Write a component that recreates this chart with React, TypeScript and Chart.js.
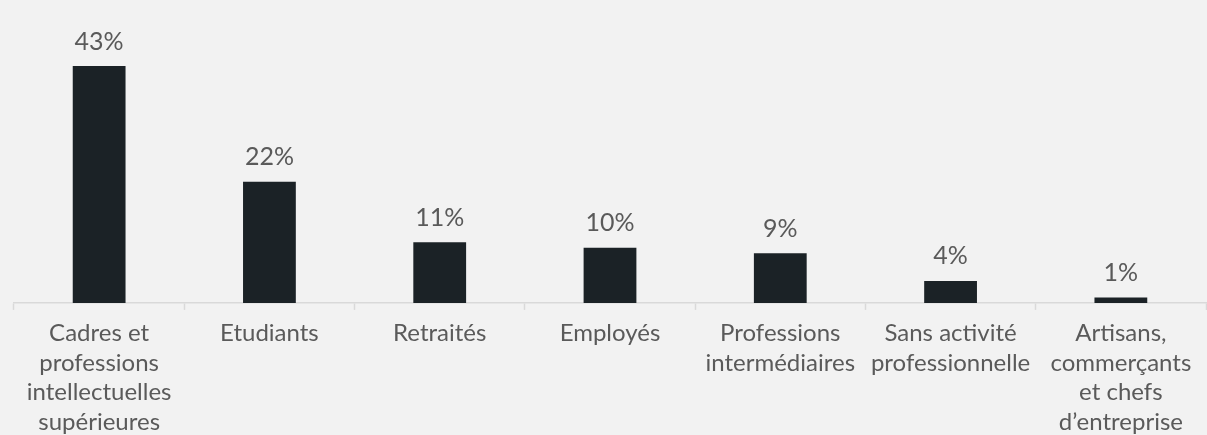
import { useEffect, useRef } from 'react'
import { Chart, registerables } from 'chart.js'
import type { Plugin } from 'chart.js'

Chart.register(...registerables)

const categories: string[][] = [
  ['Cadres et', 'professions', 'intellectuelles', 'supérieures'],
  ['Etudiants'],
  ['Retraités'],
  ['Employés'],
  ['Professions', 'intermédiaires'],
  ['Sans activité', 'professionnelle'],
  ['Artisans,', 'commerçants', 'et chefs', 'd’entreprise'],
]
const shares = [43, 22, 11, 10, 9, 4, 1]

const FONT = 'Lato, "Open Sans", sans-serif'
const TEXT = '#5a5a5a'
const BAR = '#1b2226'

// étiquettes de valeur au-dessus des barres
const valueLabels: Plugin<'bar'> = {
  id: 'valueLabels',
  afterDatasetsDraw(chart) {
    const ctx = chart.ctx
    const meta = chart.getDatasetMeta(0)
    ctx.save()
    ctx.fillStyle = TEXT
    ctx.font = `25px ${FONT}`
    ctx.textAlign = 'center'
    ctx.textBaseline = 'bottom'
    meta.data.forEach((bar, i) => {
      ctx.fillText(`${shares[i]}%`, bar.x, bar.y - 12)
    })
    ctx.restore()
  },
}

export default function App() {
  const canvasRef = useRef<HTMLCanvasElement>(null)

  useEffect(() => {
    if (!canvasRef.current) return
    const chart = new Chart(canvasRef.current, {
      type: 'bar',
      data: {
        labels: categories,
        datasets: [{
          data: shares,
          backgroundColor: BAR,
          categoryPercentage: 1,
          barPercentage: 0.31,
        }],
      },
      options: {
        animation: false,
        responsive: true,
        maintainAspectRatio: false,
        layout: { padding: { top: 66, left: 14, right: 1, bottom: 0 } },
        plugins: { legend: { display: false }, tooltip: { enabled: false } },
        scales: {
          x: {
            grid: { display: true, drawOnChartArea: false, offset: true, tickLength: 7, tickColor: '#d9d9d9', tickWidth: 1.5 },
            border: { color: '#d9d9d9', width: 1.5 },
            ticks: {
              color: TEXT,
              font: { family: FONT, size: 24, lineHeight: 1.23 },
              padding: 9,
              maxRotation: 0,
              autoSkip: false,
            },
          },
          y: { display: false, min: 0, max: 43 },
        },
      },
      plugins: [valueLabels],
    })
    return () => { chart.destroy() }
  }, [])

  return (
    <div style={{ position: 'fixed', inset: 0, background: '#f2f2f2', overflow: 'hidden' }}>
      <div style={{ position: 'relative', width: 1207, height: 446 }}>
        <canvas ref={canvasRef} role="img" aria-label="Répartition par catégorie socio-professionnelle" />
      </div>
    </div>
  )
}
